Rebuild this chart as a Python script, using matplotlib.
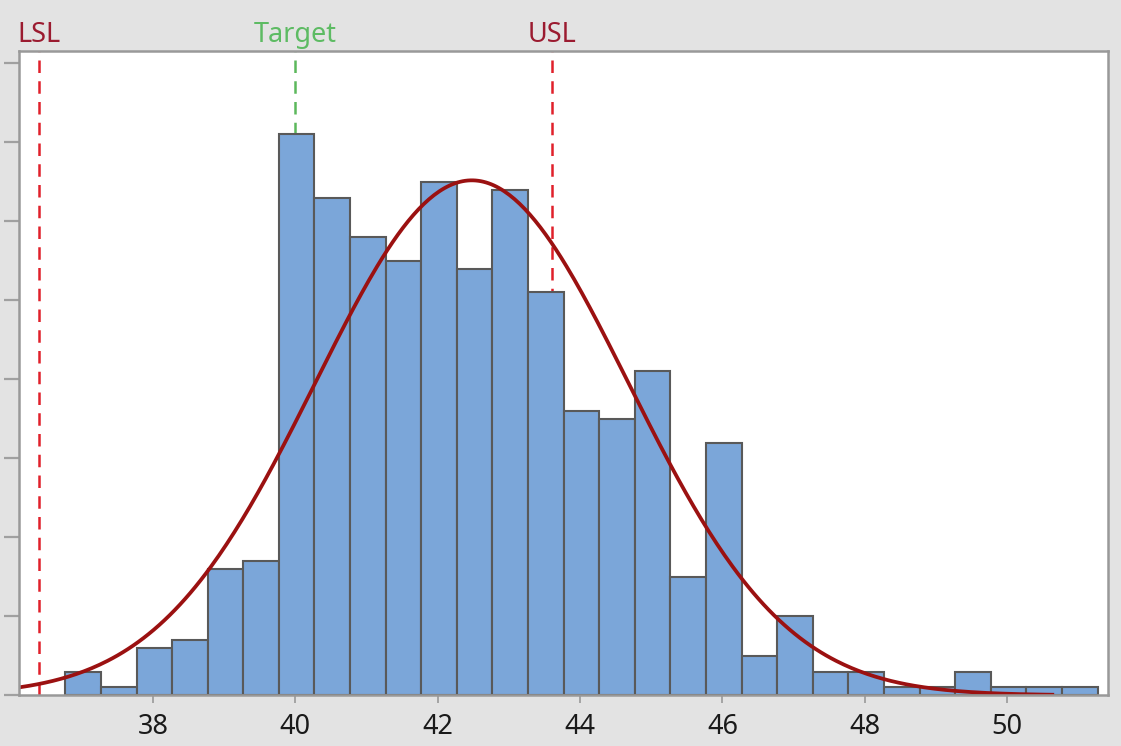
import numpy as np
import matplotlib.pyplot as plt

plt.rcParams['font.family'] = ['Noto Sans', 'DejaVu Sans']

# histogram: bin edges start / width, counts per bin
BIN_START = 36.77
BIN_WIDTH = 0.5
COUNTS = [3, 1, 6, 7, 16, 17, 71, 63, 58, 55, 65, 54, 64, 51, 36,
          35, 41, 15, 32, 5, 10, 3, 3, 1, 1, 3, 1, 1, 1]

# fitted normal curve
MEAN = 42.48
SIGMA = 2.20
N_TOTAL = sum(COUNTS)
CURVE_RANGE = (36.12, 50.66)

# spec limits
LSL = 36.4
TARGET = 40.0
USL = 43.6

XTICKS = [38, 40, 42, 44, 46, 48, 50]
YTICKS = [0, 10, 20, 30, 40, 50, 60, 70, 80]

fig = plt.figure(figsize=(11.21, 7.46), dpi=100, facecolor='#e3e3e3')
ax = fig.add_axes([0.017, 0.068, 0.971, 0.864])
ax.set_facecolor('white')

edges = BIN_START + BIN_WIDTH * np.arange(len(COUNTS))
ax.bar(edges, COUNTS, width=BIN_WIDTH, align='edge', color='#7ba6d9',
       edgecolor='#595959', linewidth=1.5, zorder=3)

xs = np.linspace(*CURVE_RANGE, 400)
pdf = N_TOTAL * BIN_WIDTH / (SIGMA * np.sqrt(2 * np.pi)) * \
    np.exp(-0.5 * ((xs - MEAN) / SIGMA) ** 2)
ax.plot(xs, pdf, color='#9b1111', lw=2.7, zorder=5, solid_capstyle='butt')

for x, lbl, lc, tc in [(LSL, 'LSL', '#e0202a', '#9b1b30'),
                       (TARGET, 'Target', '#5cb85c', '#5dbb63'),
                       (USL, 'USL', '#e0202a', '#9b1b30')]:
    ax.axvline(x, color=lc, ls=(0, (5, 3.3)), lw=1.8, zorder=2)
    ax.text(x, 1.0 + 16 / 644, lbl, transform=ax.get_xaxis_transform(),
            ha='center', va='center', fontsize=19.5, color=tc)

ax.set_xlim(36.12, 51.41)
ax.set_ylim(0, 81.6)
ax.set_xticks(XTICKS)
ax.set_xticklabels([str(t) for t in XTICKS])
ax.set_yticks(YTICKS)
ax.set_yticklabels([])
ax.tick_params(axis='x', length=6, width=1.2, color='#999999',
               labelsize=19.5, labelcolor='#1a1a1a', pad=7)
ax.tick_params(axis='y', length=11, width=1.6, color='#a0a0a0')
for s in ax.spines.values():
    s.set_color('#999999')
    s.set_linewidth(1.8)
    s.set_zorder(6)

fig.savefig('out.png', dpi=100, facecolor=fig.get_facecolor())
